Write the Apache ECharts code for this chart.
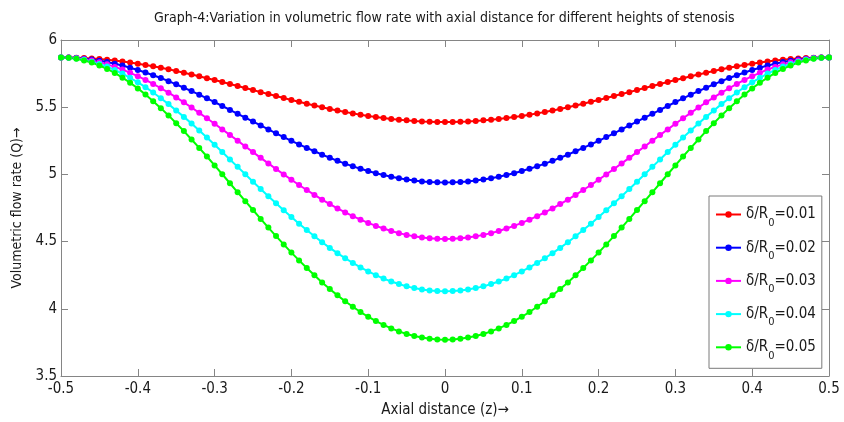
<!DOCTYPE html>
<html>
<head>
<meta charset="utf-8">
<script src="https://cdn.jsdelivr.net/npm/echarts/dist/echarts.min.js"></script>
<style>
html,body{margin:0;padding:0;background:#fff;}
#chart{width:844px;height:422px;}
</style>
</head>
<body>
<div id="chart"></div>
<script>
const titleText = 'Graph-4:Variation in volumetric flow rate with axial distance for different heights of stenosis';
const xAxisName = 'Axial distance (z)\u2192';
const yAxisName = 'Volumetric flow rate (Q)\u2192';
const seriesNames = ['\u03b4/R0=0.01', '\u03b4/R0=0.02', '\u03b4/R0=0.03', '\u03b4/R0=0.04', '\u03b4/R0=0.05'];
const seriesColors = ['#ff0000', '#0000ff', '#ff00ff', '#00ffff', '#00ff00'];

const zValues = [-0.50,-0.49,-0.48,-0.47,-0.46,-0.45,-0.44,-0.43,-0.42,-0.41,-0.40,-0.39,-0.38,-0.37,-0.36,-0.35,-0.34,-0.33,-0.32,-0.31,-0.30,-0.29,-0.28,-0.27,-0.26,-0.25,-0.24,-0.23,-0.22,-0.21,-0.20,-0.19,-0.18,-0.17,-0.16,-0.15,-0.14,-0.13,-0.12,-0.11,-0.10,-0.09,-0.08,-0.07,-0.06,-0.05,-0.04,-0.03,-0.02,-0.01,
0.00,0.01,0.02,0.03,0.04,0.05,0.06,0.07,0.08,0.09,0.10,0.11,0.12,0.13,0.14,0.15,0.16,0.17,0.18,0.19,0.20,0.21,0.22,0.23,0.24,0.25,0.26,0.27,0.28,0.29,0.30,0.31,0.32,0.33,0.34,0.35,0.36,0.37,0.38,0.39,0.40,0.41,0.42,0.43,0.44,0.45,0.46,0.47,0.48,0.49,0.50];

const q001 = [5.870,5.870,5.868,5.866,5.862,5.858,5.853,5.847,5.840,5.832,5.823,5.814,5.804,5.793,5.782,5.769,5.757,5.744,5.730,5.716,5.702,5.687,5.673,5.658,5.643,5.628,5.612,5.598,5.583,5.568,5.554,5.540,5.526,5.512,5.500,5.487,5.476,5.464,5.454,5.444,5.435,5.427,5.419,5.412,5.407,5.402,5.397,5.394,5.392,5.390,
5.390,5.390,5.392,5.394,5.397,5.402,5.407,5.412,5.419,5.427,5.435,5.444,5.454,5.464,5.476,5.487,5.500,5.512,5.526,5.540,5.554,5.568,5.583,5.598,5.612,5.628,5.643,5.658,5.673,5.687,5.702,5.716,5.730,5.744,5.757,5.769,5.782,5.793,5.804,5.814,5.823,5.832,5.840,5.847,5.853,5.858,5.862,5.866,5.868,5.870,5.870];

const q002 = [5.870,5.869,5.866,5.861,5.855,5.846,5.836,5.824,5.810,5.794,5.777,5.758,5.738,5.717,5.694,5.670,5.645,5.620,5.593,5.566,5.538,5.509,5.480,5.451,5.422,5.393,5.364,5.335,5.306,5.278,5.250,5.223,5.197,5.172,5.147,5.124,5.101,5.080,5.060,5.042,5.025,5.009,4.995,4.982,4.971,4.962,4.954,4.948,4.943,4.941,
4.940,4.941,4.943,4.948,4.954,4.962,4.971,4.982,4.995,5.009,5.025,5.042,5.060,5.080,5.101,5.124,5.147,5.172,5.197,5.223,5.250,5.278,5.306,5.335,5.364,5.393,5.422,5.451,5.480,5.509,5.538,5.566,5.593,5.620,5.645,5.670,5.694,5.717,5.738,5.758,5.777,5.794,5.810,5.824,5.836,5.846,5.855,5.861,5.866,5.869,5.870];

const q003 = [5.870,5.869,5.864,5.857,5.847,5.834,5.819,5.800,5.780,5.756,5.731,5.703,5.673,5.641,5.608,5.573,5.536,5.498,5.458,5.418,5.377,5.335,5.293,5.251,5.208,5.166,5.123,5.082,5.040,5.000,4.960,4.921,4.884,4.847,4.812,4.779,4.747,4.717,4.689,4.663,4.639,4.617,4.597,4.579,4.563,4.550,4.539,4.531,4.525,4.521,
4.520,4.521,4.525,4.531,4.539,4.550,4.563,4.579,4.597,4.617,4.639,4.663,4.689,4.717,4.747,4.779,4.812,4.847,4.884,4.921,4.960,5.000,5.040,5.082,5.123,5.166,5.208,5.251,5.293,5.335,5.377,5.418,5.458,5.498,5.536,5.573,5.608,5.641,5.673,5.703,5.731,5.756,5.780,5.800,5.819,5.834,5.847,5.857,5.864,5.869,5.870];

const q004 = [5.870,5.868,5.862,5.853,5.839,5.822,5.802,5.777,5.750,5.719,5.685,5.649,5.609,5.567,5.523,5.476,5.428,5.378,5.326,5.274,5.220,5.166,5.111,5.056,5.001,4.946,4.892,4.838,4.785,4.733,4.683,4.633,4.586,4.540,4.495,4.453,4.414,4.376,4.341,4.308,4.278,4.250,4.225,4.203,4.184,4.167,4.154,4.144,4.136,4.132,
4.130,4.132,4.136,4.144,4.154,4.167,4.184,4.203,4.225,4.250,4.278,4.308,4.341,4.376,4.414,4.453,4.495,4.540,4.586,4.633,4.683,4.733,4.785,4.838,4.892,4.946,5.001,5.056,5.111,5.166,5.220,5.274,5.326,5.378,5.428,5.476,5.523,5.567,5.609,5.649,5.685,5.719,5.750,5.777,5.802,5.822,5.839,5.853,5.862,5.868,5.870];

const q005 = [5.870,5.868,5.860,5.848,5.832,5.810,5.785,5.755,5.720,5.682,5.640,5.594,5.545,5.493,5.439,5.381,5.322,5.260,5.197,5.133,5.067,5.001,4.934,4.867,4.801,4.735,4.669,4.604,4.541,4.479,4.418,4.360,4.303,4.249,4.196,4.147,4.100,4.056,4.015,3.976,3.941,3.909,3.880,3.854,3.832,3.813,3.798,3.786,3.777,3.772,
3.770,3.772,3.777,3.786,3.798,3.813,3.832,3.854,3.880,3.909,3.941,3.976,4.015,4.056,4.100,4.147,4.196,4.249,4.303,4.360,4.418,4.479,4.541,4.604,4.669,4.735,4.801,4.867,4.934,5.001,5.067,5.133,5.197,5.260,5.322,5.381,5.439,5.493,5.545,5.594,5.640,5.682,5.720,5.755,5.785,5.810,5.832,5.848,5.860,5.868,5.870];

const seriesValues = [q001, q002, q003, q004, q005];

const FONT = "'Liberation Sans Narrow', 'DejaVu Sans Condensed', 'Roboto Condensed', sans-serif";
const TXT = '#1a1a1a';
const AXC = '#858585';

function axisCommon(extra) {
  return Object.assign({
    axisLine: { show: true, onZero: false, lineStyle: { color: AXC, width: 1 } },
    axisTick: { show: true, inside: true, length: 7, lineStyle: { color: AXC, width: 1 } },
    splitLine: { show: false },
    axisLabel: { show: false }
  }, extra);
}

const chart = echarts.init(document.getElementById('chart'), null, { renderer: 'canvas' });

const series = seriesNames.map((name, i) => ({
  name: name,
  type: 'line',
  xAxisIndex: 0,
  yAxisIndex: 0,
  data: zValues.map((z, k) => [z, seriesValues[i][k]]),
  symbol: 'circle',
  symbolSize: 6,
  showSymbol: true,
  showAllSymbol: true,
  lineStyle: { color: seriesColors[i], width: 2 },
  itemStyle: { color: seriesColors[i] },
  emphasis: { disabled: true },
  silent: true,
  animation: false
}));

chart.setOption({
  animation: false,
  backgroundColor: '#ffffff',
  title: {
    text: titleText,
    left: 154,
    top: 11,
    padding: 0,
    textStyle: { fontFamily: FONT, fontSize: 14, fontWeight: 'normal', color: TXT }
  },
  grid: { left: 61, right: 15, top: 40, bottom: 46, containLabel: false, outerBoundsMode: 'none' },
  legend: {
    orient: 'vertical',
    left: 709,
    top: 196,
    padding: [11, 6, 7, 6],
    itemGap: 11.7,
    itemWidth: 25,
    itemHeight: 8,
    backgroundColor: '#ffffff',
    borderColor: '#7a7a7a',
    borderWidth: 1,
    borderRadius: 0,
    selectedMode: false,
    data: seriesNames,
    formatter: function (name) {
      const v = name.split('=')[1];
      return '{m|\u03b4/R}{s|0}{m|=' + v + '}';
    },
    textStyle: {
      fontFamily: FONT,
      color: TXT,
      rich: {
        m: { fontFamily: FONT, fontSize: 15, color: TXT, lineHeight: 28, verticalAlign: 'middle' },
        s: { fontFamily: FONT, fontSize: 11, color: TXT, lineHeight: 9, verticalAlign: 'bottom' }
      }
    }
  },
  xAxis: [
    axisCommon({
      type: 'value', position: 'bottom', min: -0.5, max: 0.5, interval: 0.1,
      name: xAxisName, nameLocation: 'middle', nameGap: 27,
      nameTextStyle: { fontFamily: FONT, fontSize: 15, color: TXT },
      axisLabel: { show: true, margin: 6, fontFamily: FONT, fontSize: 15, color: TXT, showMinLabel: true, showMaxLabel: true }
    }),
    axisCommon({ type: 'value', position: 'top', min: -0.5, max: 0.5, interval: 0.1 })
  ],
  yAxis: [
    axisCommon({
      type: 'value', position: 'left', min: 3.5, max: 6, interval: 0.5,
      name: yAxisName, nameLocation: 'middle', nameGap: 36,
      nameTextStyle: { fontFamily: FONT, fontSize: 14, color: TXT },
      axisLabel: { show: true, margin: 4, fontFamily: FONT, fontSize: 15, color: TXT, showMinLabel: true, showMaxLabel: true }
    }),
    axisCommon({ type: 'value', position: 'right', min: 3.5, max: 6, interval: 0.5 })
  ],
  series: series
});
</script>
</body>
</html>
